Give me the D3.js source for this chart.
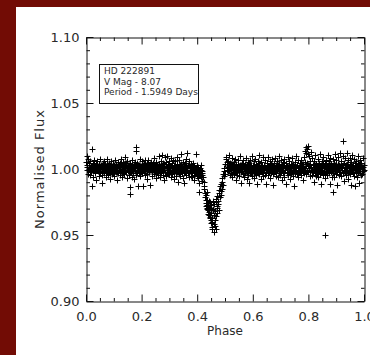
<!DOCTYPE html>
<html>
<head>
<meta charset="utf-8">
<script src="https://cdn.jsdelivr.net/npm/d3@7"></script>
<style>
  html, body { margin: 0; padding: 0; background: #fff; overflow: hidden; }
  svg { display: block; }
  text { font-family: "DejaVu Sans", sans-serif; fill: #2a2a2a; }
</style>
</head>
<body>
<div id="chart"></div>
<script>
// phase-folded light curve, [phase, normalised flux]
const season1 = [
  [0.001,1.0052],[0.002,1.0097],[0.004,0.9989],[0.005,1.0031],[0.007,1.0074],[0.008,0.9962],[0.010,1.0018],[0.012,1.0043],[0.013,0.9951],[0.015,1.0006],[0.016,1.0061],[0.018,0.9977],[0.019,1.0025],[0.020,1.0152],[0.021,0.9868],
  [0.022,1.0009],[0.024,1.0047],[0.025,0.9938],[0.027,1.0023],[0.029,0.9991],[0.030,1.0068],[0.032,1.0012],[0.034,0.9969],[0.035,1.0035],[0.037,0.9920],[0.039,1.0004],
  [0.041,1.0057],[0.042,0.9983],[0.044,1.0021],[0.046,0.9949],[0.047,1.0039],[0.049,1.0002],[0.051,0.9973],[0.052,1.0072],[0.054,1.0016],[0.056,0.9958],[0.058,1.0029],[0.059,0.9897],
  [0.061,1.0044],[0.063,0.9991],[0.064,1.0063],[0.066,0.9967],[0.068,1.0012],[0.069,1.0036],[0.071,0.9942],[0.073,1.0005],[0.075,1.0078],[0.076,0.9981],[0.078,1.0027],
  [0.080,0.9955],[0.082,1.0049],[0.083,1.0008],[0.085,0.9972],[0.087,1.0031],[0.088,0.9926],[0.090,1.0059],[0.092,0.9994],[0.093,1.0017],[0.095,0.9963],[0.097,1.0041],[0.099,0.9985],
  [0.100,1.0024],[0.102,0.9947],[0.104,1.0066],[0.105,1.0003],[0.107,0.9979],[0.109,1.0038],[0.110,0.9918],[0.112,1.0011],[0.114,1.0052],[0.115,0.9968],[0.117,1.0029],[0.119,0.9993],
  [0.121,1.0045],[0.122,0.9956],[0.124,1.0014],[0.126,1.0073],[0.127,0.9984],[0.129,1.0026],[0.131,0.9939],[0.133,1.0051],[0.134,0.9997],[0.136,1.0019],[0.138,0.9961],[0.139,1.0088],
  [0.141,1.0007],[0.143,0.9975],[0.144,1.0042],[0.146,0.9930],[0.148,1.0016],[0.149,1.0061],[0.151,0.9988],[0.153,1.0033],[0.154,0.9952],[0.156,1.0004],[0.158,0.9865],[0.159,1.0047],
  [0.160,0.9812],[0.161,0.9978],[0.163,1.0025],[0.165,0.9943],[0.166,1.0069],[0.168,1.0010],[0.170,0.9966],[0.171,1.0037],[0.173,0.9921],[0.175,1.0054],[0.176,0.9991],[0.178,1.0028],[0.179,1.0163],[0.180,1.0140],
  [0.181,0.9957],[0.183,1.0046],[0.185,0.9982],[0.186,1.0013],[0.188,0.9872],[0.190,1.0034],[0.191,0.9969],[0.193,1.0077],[0.195,1.0002],[0.196,0.9948],[0.198,1.0021],[0.199,0.9994],
  [0.201,1.0058],[0.203,0.9973],[0.204,1.0017],[0.206,0.9871],[0.208,1.0041],[0.209,0.9986],[0.211,1.0066],[0.213,0.9951],[0.214,1.0009],[0.216,1.0032],[0.218,0.9964],[0.219,1.0048],
  [0.221,0.9925],[0.223,1.0015],[0.224,1.0071],[0.226,0.9979],[0.228,1.0027],[0.229,0.9876],[0.231,1.0039],[0.233,0.9995],[0.234,1.0056],[0.236,0.9945],[0.238,1.0012],[0.239,0.9983],
  [0.241,1.0043],[0.243,0.9960],[0.244,1.0024],[0.246,1.0082],[0.248,0.9989],[0.249,1.0006],[0.251,0.9934],[0.253,1.0050],[0.254,0.9976],[0.256,1.0031],[0.258,0.9954],[0.259,1.0019],
  [0.261,1.0095],[0.263,0.9987],[0.264,1.0036],[0.266,0.9942],[0.268,1.0063],[0.269,1.0008],[0.271,0.9971],[0.273,1.0108],[0.274,1.0029],[0.276,0.9958],[0.278,1.0045],[0.279,0.9913],
  [0.281,1.0014],[0.283,1.0089],[0.284,0.9981],[0.286,1.0052],[0.288,0.9947],[0.289,1.0023],[0.291,1.0099],[0.293,0.9968],[0.294,1.0037],[0.296,0.9992],[0.298,1.0061],[0.299,0.9959],
  [0.301,1.0026],[0.303,0.9978],[0.304,1.0084],[0.306,0.9936],[0.308,1.0018],[0.309,1.0047],[0.311,0.9963],[0.313,1.0005],[0.314,1.0071],[0.316,0.9986],[0.318,0.9922],[0.319,1.0033],
  [0.321,1.0058],[0.323,0.9950],[0.324,1.0012],[0.326,1.0092],[0.328,0.9975],[0.329,1.0040],[0.331,0.9903],[0.333,1.0021],[0.334,1.0067],[0.336,0.9961],[0.338,1.0003],[0.339,0.9944],
  [0.341,1.0035],[0.343,1.0112],[0.344,0.9982],[0.346,1.0016],[0.348,0.9929],[0.349,1.0054],[0.351,0.9970],[0.353,1.0026],[0.354,0.9891],[0.356,1.0043],[0.358,0.9988],[0.359,1.0075],
  [0.361,0.9952],[0.363,1.0011],[0.364,1.0124],[0.366,0.9966],[0.368,1.0030],[0.369,0.9937],[0.371,1.0059],[0.373,0.9984],[0.374,1.0015],[0.376,0.9947],[0.378,1.0038],[0.379,0.9973],
  [0.381,1.0022],[0.383,0.9941],[0.384,0.9993],[0.386,1.0049],[0.388,0.9958],[0.389,0.9915],[0.391,1.0008],[0.393,0.9969],[0.394,1.0117],[0.396,0.9981],[0.398,1.0032],[0.399,0.9948],
  [0.401,0.9979],[0.403,0.9932],[0.404,1.0014],[0.406,0.9962],[0.407,0.9822],[0.408,0.9895],[0.409,0.9990],[0.411,0.9955],[0.412,1.0027],[0.414,0.9938],[0.416,0.9971],[0.418,0.9912],[0.419,0.9984],
  // eclipse
  [0.421,0.9941],[0.423,0.9905],[0.425,0.9872],[0.426,0.9850],[0.428,0.9815],[0.429,0.9790],[0.430,0.9766],[0.431,0.9802],[0.432,0.9745],[0.433,0.9720],[0.434,0.9698],[0.434,0.9823],[0.435,0.9762],
  [0.436,0.9731],[0.437,0.9705],[0.438,0.9688],[0.439,0.9662],[0.440,0.9740],[0.441,0.9715],[0.442,0.9650],[0.443,0.9676],[0.444,0.9758],[0.445,0.9630],
  [0.446,0.9752],[0.447,0.9703],[0.447,0.9640],[0.448,0.9612],[0.449,0.9588],[0.450,0.9725],[0.451,0.9668],[0.452,0.9627],[0.453,0.9561],[0.454,0.9598],[0.455,0.9545],[0.456,0.9700],
  [0.457,0.9760],[0.458,0.9692],[0.459,0.9655],[0.460,0.9580],[0.461,0.9520],[0.462,0.9735],[0.463,0.9611],[0.464,0.9570],[0.465,0.9684],[0.466,0.9642],[0.467,0.9548],
  [0.468,0.9775],[0.469,0.9748],[0.470,0.9720],[0.471,0.9702],[0.472,0.9668],[0.473,0.9795],[0.475,0.9760],[0.476,0.9735],[0.477,0.9690],
  [0.479,0.9842],[0.480,0.9815],[0.481,0.9790],[0.483,0.9868],[0.484,0.9830],[0.486,0.9805],[0.487,0.9885],[0.488,0.9852],
  [0.490,0.9930],[0.491,0.9902],[0.492,0.9878],[0.494,0.9965],[0.495,0.9948],[0.497,1.0010],[0.498,0.9985],[0.500,1.0040],[0.501,0.9962],[0.503,1.0072],[0.504,1.0094],[0.506,0.9996],[0.507,1.0052],[0.509,1.0018],
  // out of eclipse
  [0.511,1.0061],[0.512,0.9985],[0.514,1.0103],[0.516,1.0027],[0.517,0.9958],[0.519,1.0044],[0.521,1.0009],[0.522,0.9972],[0.524,1.0086],[0.526,0.9936],[0.527,1.0035],[0.529,0.9991],
  [0.531,1.0053],[0.533,0.9964],[0.534,1.0018],[0.536,1.0079],[0.538,0.9983],[0.539,0.9915],[0.541,1.0040],[0.543,1.0006],[0.544,0.9951],[0.546,1.0068],[0.548,0.9989],[0.549,1.0025],
  [0.551,0.9946],[0.553,1.0034],[0.554,1.0097],[0.556,0.9977],[0.558,1.0012],[0.559,0.9895],[0.561,1.0049],[0.563,0.9962],[0.564,1.0021],[0.566,1.0070],[0.568,0.9940],[0.569,1.0004],
  [0.571,1.0038],[0.573,0.9971],[0.574,1.0083],[0.576,0.9993],[0.578,0.9928],[0.579,1.0027],[0.581,1.0055],[0.583,0.9956],[0.584,1.0014],[0.586,0.9893],[0.588,1.0046],[0.589,0.9981],
  [0.591,1.0065],[0.593,0.9967],[0.594,1.0022],[0.596,1.0101],[0.598,0.9949],[0.599,1.0031],[0.601,0.9986],[0.603,1.0057],[0.604,0.9935],[0.606,1.0008],[0.608,1.0074],[0.609,0.9975],
  [0.611,1.0036],[0.613,0.9954],[0.614,1.0019],[0.616,0.9884],[0.618,1.0062],[0.619,0.9990],[0.621,1.0043],[0.623,0.9961],[0.624,1.0105],[0.626,1.0003],[0.628,0.9927],[0.629,1.0029],
  [0.631,1.0051],[0.633,0.9979],[0.634,1.0016],[0.636,0.9944],[0.638,1.0088],[0.639,0.9997],[0.641,1.0033],[0.643,0.9958],[0.644,1.0069],[0.646,0.9886],[0.648,1.0010],[0.649,0.9973],
  [0.651,1.0047],[0.653,0.9952],[0.654,1.0025],[0.656,1.0092],[0.658,0.9983],[0.659,1.0006],[0.661,0.9931],[0.663,1.0058],[0.664,0.9969],[0.666,1.0037],[0.668,0.9993],[0.669,1.0078],
  [0.671,0.9960],[0.673,1.0023],[0.674,0.9880],[0.676,1.0045],[0.678,0.9976],[0.679,1.0012],[0.681,1.0084],[0.683,0.9947],[0.684,1.0030],[0.686,0.9989],[0.688,1.0061],[0.689,0.9938],
  [0.691,1.0016],[0.693,1.0098],[0.694,0.9972],[0.696,1.0039],[0.698,0.9953],[0.699,1.0005],[0.701,1.0067],[0.703,0.9984],[0.704,0.9919],[0.706,1.0028],[0.708,1.0052],[0.709,0.9966],
  [0.711,1.0034],[0.713,0.9943],[0.714,1.0076],[0.716,0.9991],[0.718,1.0018],[0.719,0.9885],[0.721,1.0049],[0.723,0.9970],[0.724,1.0026],[0.726,1.0093],[0.728,0.9957],[0.729,1.0007],
  [0.731,1.0062],[0.733,0.9978],[0.734,0.9921],[0.736,1.0035],[0.738,1.0011],[0.739,0.9961],[0.741,1.0083],[0.743,0.9995],[0.744,1.0040],[0.746,0.9948],[0.748,1.0021],[0.749,0.9873],
  [0.751,1.0054],[0.753,0.9982],[0.754,1.0015],[0.756,1.0096],[0.758,0.9959],[0.759,1.0032],[0.761,0.9988],[0.763,1.0068],[0.764,0.9937],[0.766,1.0009],[0.768,1.0045],[0.769,0.9974],
  [0.771,1.0027],[0.773,0.9952],[0.774,1.0071],[0.776,0.9993],[0.778,1.0038],[0.779,0.9916],[0.781,1.0012],[0.783,1.0089],[0.784,0.9967],[0.786,1.0134],[0.788,1.0050],[0.789,0.9985],
  [0.790,1.0168],[0.791,1.0121],[0.793,0.9961],[0.794,1.0043],[0.796,1.0152],[0.797,1.0112],[0.798,0.9978],[0.800,1.0176],[0.801,1.0029],[0.803,1.0098],[0.804,0.9944],[0.806,1.0064],[0.808,0.9990],[0.809,1.0126],
  [0.811,1.0017],[0.813,0.9955],[0.814,1.0081],[0.816,0.9986],[0.818,1.0034],[0.819,0.9902],[0.821,1.0058],[0.823,0.9973],[0.824,1.0106],[0.826,1.0008],[0.828,0.9946],[0.829,1.0040],
  [0.831,0.9980],[0.833,1.0073],[0.834,1.0015],[0.836,0.9939],[0.838,1.0049],[0.839,0.9992],[0.841,1.0117],[0.843,0.9965],[0.844,1.0027],[0.846,0.9887],[0.848,1.0060],[0.849,0.9983],
  [0.851,1.0036],[0.853,0.9957],[0.854,1.0094],[0.856,1.0011],[0.858,0.9973],[0.859,1.0047],[0.860,0.9500],[0.861,0.9929],[0.863,1.0065],[0.864,0.9998],[0.866,1.0022],[0.868,0.9951],[0.869,1.0103],
  [0.871,1.0031],[0.873,0.9969],[0.874,1.0057],[0.876,0.9890],[0.878,1.0013],[0.879,1.0085],[0.881,0.9977],[0.883,1.0040],[0.884,0.9942],[0.886,1.0019],[0.888,0.9826],[0.888,1.0072],[0.889,0.9987],
  [0.891,1.0049],[0.893,0.9936],[0.894,1.0025],[0.896,1.0110],[0.898,0.9963],[0.899,1.0006],[0.901,1.0069],[0.903,0.9982],[0.904,0.9876],[0.906,1.0037],[0.908,1.0092],[0.909,0.9958],
  [0.911,1.0028],[0.913,0.9975],[0.914,1.0121],[0.916,1.0013],[0.918,0.9948],[0.919,1.0061],[0.921,0.9990],[0.923,1.0102],[0.924,1.0215],[0.926,0.9967],[0.928,1.0044],[0.929,0.9909],
  [0.931,1.0083],[0.933,0.9985],[0.934,1.0029],[0.936,0.9954],[0.938,1.0118],[0.939,1.0041],[0.941,0.9972],[0.943,1.0066],[0.944,0.9925],[0.946,1.0010],[0.948,1.0087],[0.949,0.9961],
  [0.951,1.0035],[0.953,0.9882],[0.954,1.0052],[0.956,0.9993],[0.958,1.0108],[0.959,0.9968],[0.961,1.0024],[0.963,0.9945],[0.964,1.0077],[0.966,1.0003],[0.968,0.9874],[0.969,1.0046],
  [0.971,0.9980],[0.973,1.0061],[0.974,0.9937],[0.976,1.0019],[0.978,1.0095],[0.979,0.9972],[0.981,1.0038],[0.983,0.9893],[0.984,1.0011],[0.986,1.0070],[0.988,0.9958],[0.989,1.0027],
  [0.991,1.0049],[0.993,0.9965],[0.994,1.0014],[0.996,1.0083],[0.998,0.9986],[0.999,1.0032]
];

// second run, out of eclipse only (fills the dense core of the band)
const season2 = [
  [0.003,1.0012],[0.006,0.9991],[0.009,1.0027],[0.014,1.0003],[0.017,0.9982],[0.023,1.0019],[0.026,0.9996],[0.028,1.0031],[0.033,0.9978],[0.036,1.0008],
  [0.040,1.0022],[0.043,0.9989],[0.048,1.0014],[0.050,0.9975],[0.053,1.0033],[0.057,1.0001],[0.060,0.9984],[0.062,1.0026],[0.067,0.9995],[0.070,1.0017],
  [0.072,0.9972],[0.074,1.0038],[0.077,1.0006],[0.079,0.9988],[0.081,1.0024],[0.084,0.9979],[0.086,1.0011],[0.089,0.9997],[0.091,1.0029],[0.094,0.9983],
  [0.096,1.0015],[0.098,0.9969],[0.101,1.0034],[0.103,1.0002],[0.106,0.9986],[0.108,1.0020],[0.111,0.9977],[0.113,1.0009],[0.116,1.0032],[0.118,0.9992],
  [0.120,1.0013],[0.123,0.9981],[0.125,1.0027],[0.128,0.9998],[0.130,1.0016],[0.132,0.9973],[0.135,1.0035],[0.137,1.0004],[0.140,0.9987],[0.142,1.0021],
  [0.145,0.9976],[0.147,1.0010],[0.150,1.0030],[0.152,0.9994],[0.155,1.0018],[0.157,0.9980],[0.162,1.0025],[0.164,0.9999],[0.167,1.0014],[0.169,0.9971],
  [0.172,1.0033],[0.174,1.0007],[0.177,0.9985],[0.182,1.0019],[0.184,0.9978],[0.187,1.0028],[0.189,1.0001],[0.192,0.9990],[0.194,1.0023],[0.197,0.9974],
  [0.200,1.0012],[0.202,0.9996],[0.205,1.0031],[0.207,0.9982],[0.210,1.0015],[0.212,0.9970],[0.215,1.0026],[0.217,1.0005],[0.220,0.9988],[0.222,1.0020],
  [0.225,0.9976],[0.227,1.0011],[0.230,1.0034],[0.232,0.9993],[0.235,1.0017],[0.237,0.9979],[0.240,1.0024],[0.242,1.0000],[0.245,0.9986],[0.247,1.0029],
  [0.250,0.9972],[0.252,1.0013],[0.255,0.9995],[0.257,1.0032],[0.260,0.9981],[0.262,1.0016],[0.265,1.0003],[0.267,0.9975],[0.270,1.0027],[0.272,0.9992],
  [0.275,1.0019],[0.277,0.9984],[0.280,1.0035],[0.282,1.0008],[0.285,0.9977],[0.287,1.0022],[0.290,0.9996],[0.292,1.0013],[0.295,0.9971],[0.297,1.0030],
  [0.300,1.0005],[0.302,0.9987],[0.305,1.0024],[0.307,0.9980],[0.310,1.0011],[0.312,0.9994],[0.315,1.0033],[0.317,0.9973],[0.320,1.0018],[0.322,1.0001],
  [0.325,0.9985],[0.327,1.0026],[0.330,0.9978],[0.332,1.0014],[0.335,0.9997],[0.337,1.0031],[0.340,0.9982],[0.342,1.0009],[0.345,0.9970],[0.347,1.0023],
  [0.350,1.0004],[0.352,0.9989],[0.355,1.0017],[0.357,0.9976],[0.360,1.0028],[0.362,0.9993],[0.365,1.0012],[0.367,0.9981],[0.370,1.0021],[0.372,0.9968],
  [0.375,1.0006],[0.377,0.9985],[0.380,1.0015],[0.382,0.9972],[0.385,0.9998],[0.387,1.0019],[0.390,0.9966],[0.392,0.9991],[0.395,1.0008],[0.397,0.9974],
  [0.400,0.9995],[0.402,0.9963],[0.405,0.9987],[0.410,1.0004],[0.413,0.9970],[0.415,0.9992],[0.417,0.9958],
  [0.510,0.9994],[0.513,1.0021],[0.515,0.9983],[0.518,1.0012],[0.520,1.0035],[0.523,0.9996],[0.525,1.0018],[0.528,0.9977],[0.530,1.0027],[0.532,1.0003],
  [0.535,0.9986],[0.537,1.0024],[0.540,0.9979],[0.542,1.0013],[0.545,1.0031],[0.547,0.9992],[0.550,1.0016],[0.552,0.9975],[0.555,1.0008],[0.557,1.0029],
  [0.560,0.9988],[0.562,1.0015],[0.565,0.9971],[0.567,1.0022],[0.570,0.9997],[0.572,1.0034],[0.575,0.9983],[0.577,1.0010],[0.580,0.9976],[0.582,1.0026],
  [0.585,1.0002],[0.587,0.9985],[0.590,1.0019],[0.592,0.9973],[0.595,1.0031],[0.597,1.0006],[0.600,0.9990],[0.602,1.0023],[0.605,0.9978],[0.607,1.0014],
  [0.610,0.9996],[0.612,1.0030],[0.615,0.9982],[0.617,1.0009],[0.620,0.9972],[0.622,1.0025],[0.625,0.9999],[0.627,1.0017],[0.630,0.9984],[0.632,1.0033],
  [0.635,1.0005],[0.637,0.9977],[0.640,1.0020],[0.642,0.9993],[0.645,1.0012],[0.647,0.9970],[0.650,1.0028],[0.652,1.0001],[0.655,0.9987],[0.657,1.0023],
  [0.660,0.9975],[0.662,1.0011],[0.665,1.0034],[0.667,0.9994],[0.670,1.0016],[0.672,0.9980],[0.675,1.0025],[0.677,1.0003],[0.680,0.9986],[0.682,1.0019],
  [0.685,0.9972],[0.687,1.0013],[0.690,0.9997],[0.692,1.0031],[0.695,0.9983],[0.697,1.0008],[0.700,0.9976],[0.702,1.0022],[0.705,1.0004],[0.707,0.9989],
  [0.710,1.0027],[0.712,0.9974],[0.715,1.0010],[0.717,0.9995],[0.720,1.0032],[0.722,0.9981],[0.725,1.0015],[0.727,0.9971],[0.730,1.0024],[0.732,1.0002],
  [0.735,0.9985],[0.737,1.0018],[0.740,0.9978],[0.742,1.0029],[0.745,1.0006],[0.747,0.9990],[0.750,1.0021],[0.752,0.9973],[0.755,1.0012],[0.757,0.9996],
  [0.760,1.0033],[0.762,0.9982],[0.765,1.0016],[0.767,0.9975],[0.770,1.0026],[0.772,1.0001],[0.775,0.9987],[0.777,1.0020],[0.780,0.9979],[0.782,1.0035],
  [0.785,1.0009],[0.787,0.9992],[0.792,1.0024],[0.795,0.9984],[0.799,1.0031],[0.802,1.0007],[0.805,0.9980],[0.807,1.0038],[0.810,1.0012],[0.812,0.9991],
  [0.815,1.0027],[0.817,0.9976],[0.820,1.0015],[0.822,0.9998],[0.825,1.0034],[0.827,0.9983],[0.830,1.0019],[0.832,0.9972],[0.835,1.0026],[0.837,1.0004],
  [0.840,0.9988],[0.842,1.0022],[0.845,0.9977],[0.847,1.0013],[0.850,0.9995],[0.852,1.0030],[0.855,0.9981],[0.857,1.0016],[0.862,0.9974],[0.865,1.0028],
  [0.867,1.0003],[0.870,0.9986],[0.872,1.0021],[0.875,0.9979],[0.877,1.0034],[0.880,1.0008],[0.882,0.9990],[0.885,1.0025],[0.887,0.9973],[0.890,1.0014],
  [0.892,0.9997],[0.895,1.0032],[0.897,0.9984],[0.900,1.0018],[0.902,0.9976],[0.905,1.0027],[0.907,1.0005],[0.910,0.9989],[0.912,1.0023],[0.915,0.9978],
  [0.917,1.0036],[0.920,1.0010],[0.922,0.9993],[0.925,1.0029],[0.927,0.9982],[0.930,1.0017],[0.932,0.9974],[0.935,1.0031],[0.937,1.0004],[0.940,0.9987],
  [0.942,1.0024],[0.945,0.9979],[0.947,1.0015],[0.950,0.9996],[0.952,1.0033],[0.955,0.9983],[0.957,1.0019],[0.960,0.9975],[0.962,1.0028],[0.965,1.0006],
  [0.967,0.9990],[0.970,1.0022],[0.972,0.9977],[0.975,1.0013],[0.977,0.9998],[0.980,1.0035],[0.982,0.9984],[0.985,1.0020],[0.987,0.9972],[0.990,1.0026],
  [0.992,1.0003],[0.995,0.9988],[0.997,1.0017],[1.000,0.9995]
];

const xMajorTicks = [0.0, 0.2, 0.4, 0.6, 0.8, 1.0];
const xMinorTicks = [0.05, 0.1, 0.15, 0.25, 0.3, 0.35, 0.45, 0.5, 0.55, 0.65, 0.7, 0.75, 0.85, 0.9, 0.95];
const yMajorTicks = [0.90, 0.95, 1.00, 1.05, 1.10];
const yMinorTicks = [0.91, 0.92, 0.93, 0.94, 0.96, 0.97, 0.98, 0.99, 1.01, 1.02, 1.03, 1.04, 1.06, 1.07, 1.08, 1.09];
const infoLines = ["HD 222891", "V Mag - 8.07", "Period - 1.5949 Days"];

const width = 370, height = 355;
const plotLeft = 86, plotRight = 364, plotTop = 37, plotBottom = 301;

const svg = d3.select("#chart").append("svg")
    .attr("width", width)
    .attr("height", height);

// white page with a maroon frame on the left and top
svg.append("rect").attr("x", 0).attr("y", 0).attr("width", width).attr("height", height).attr("fill", "#fff");
svg.append("rect").attr("x", 0).attr("y", 0).attr("width", width).attr("height", 7).attr("fill", "#720c05");
svg.append("rect").attr("x", 0).attr("y", 0).attr("width", 16).attr("height", height).attr("fill", "#720c05");

const x = d3.scaleLinear().domain([0, 1]).range([plotLeft, plotRight]);
const y = d3.scaleLinear().domain([0.90, 1.10]).range([plotBottom, plotTop]);

const chart = svg.append("g");

function drawAxis(axisFn, scale, pos, transform, showLabels, fmt) {
  const major = axisFn(scale).tickValues(pos.major).tickSizeInner(-7).tickSizeOuter(0).tickPadding(showLabels ? 7 : 0)
      .tickFormat(showLabels ? d3.format(fmt) : "");
  const minor = axisFn(scale).tickValues(pos.minor).tickSizeInner(-3.5).tickSizeOuter(0).tickFormat("");
  const g1 = chart.append("g").attr("transform", transform).call(major);
  const g2 = chart.append("g").attr("transform", transform).call(minor);
  [g1, g2].forEach(g => {
    g.selectAll("path, line").attr("stroke", "#111").attr("stroke-width", 1);
    g.selectAll("text").style("font-size", "13px").style("font-family", "DejaVu Sans").attr("fill", "#2a2a2a");
  });
  g2.select(".domain").remove();
  return g1;
}

const xPos = { major: xMajorTicks, minor: xMinorTicks };
const yPos = { major: yMajorTicks, minor: yMinorTicks };
const xAxisG = drawAxis(d3.axisBottom, x, xPos, `translate(0,${plotBottom + 0.5})`, true, ".1f");
xAxisG.selectAll("text").attr("y", 10);
drawAxis(d3.axisTop, x, xPos, `translate(0,${plotTop + 0.5})`, false, ".1f");
drawAxis(d3.axisLeft, y, yPos, `translate(${plotLeft + 0.5},0)`, true, ".2f");
drawAxis(d3.axisRight, y, yPos, `translate(${plotRight + 0.5},0)`, false, ".2f");

// data points as plus signs
chart.append("g")
  .selectAll("path")
  .data(season1.concat(season2))
  .join("path")
    .attr("d", d => {
      const px = Math.round(x(d[0])) + 0.5, py = Math.round(y(d[1])) + 0.5;
      return `M${px - 3},${py}H${px + 3}M${px},${py - 3}V${py + 3}`;
    })
    .attr("stroke", "#000")
    .attr("stroke-width", 1)
    .attr("fill", "none");

// axis titles
svg.append("text")
    .attr("x", (plotLeft + plotRight) / 2).attr("y", 335)
    .attr("text-anchor", "middle")
    .style("font-size", "12px")
    .text("Phase");

svg.append("text")
    .attr("transform", `translate(44,${(plotTop + plotBottom) / 2}) rotate(-90)`)
    .attr("text-anchor", "middle")
    .style("font-size", "13px")
    .style("letter-spacing", "1px")
    .text("Normalised Flux");

// info box
const info = svg.append("g");
info.append("rect")
    .attr("x", 99.5).attr("y", 64.5)
    .attr("width", 99).attr("height", 39)
    .attr("fill", "#fff").attr("stroke", "#111");
info.selectAll("text")
  .data(infoLines)
  .join("text")
    .attr("x", 104)
    .attr("y", (d, i) => 74 + i * 10.6)
    .style("font-size", "9px")
    .text(d => d);
</script>
</body>
</html>
